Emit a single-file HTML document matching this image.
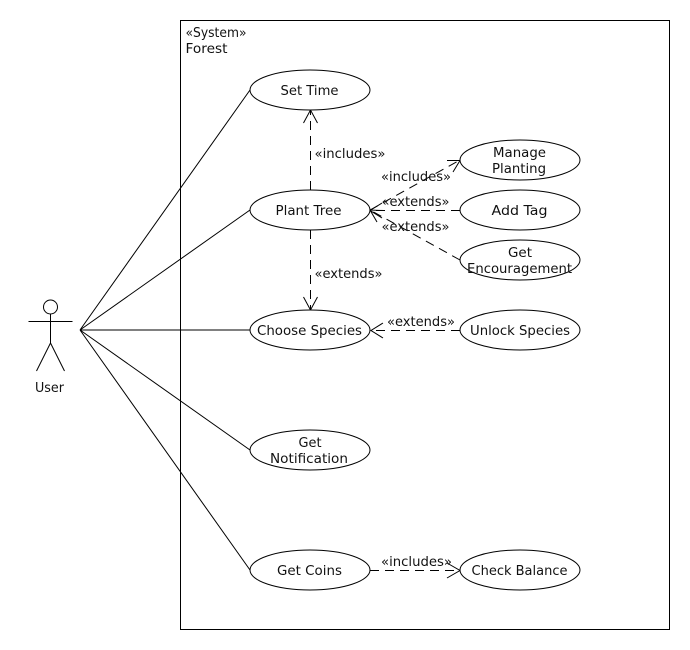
<!DOCTYPE html>
<html>
<head>
<meta charset="utf-8">
<style>
html,body{margin:0;padding:0;background:#fff;width:690px;height:650px;overflow:hidden}
svg{display:block}
text{font-family:"DejaVu Sans","Liberation Sans",sans-serif;font-size:13.5px;fill:#111}
.s{stroke:#000;stroke-width:1;fill:none}
.e{stroke:#000;stroke-width:1;fill:#fff}
.d{stroke:#000;stroke-width:1;fill:none;stroke-dasharray:9 6}
</style>
</head>
<body>
<svg width="690" height="650" viewBox="0 0 690 650" xmlns="http://www.w3.org/2000/svg">
<rect width="690" height="650" fill="#fff"/>
<rect class="s" x="180.5" y="20.5" width="489" height="609"/>
<text x="185.5" y="37" textLength="61" lengthAdjust="spacingAndGlyphs">«System»</text>
<text x="185.5" y="53" textLength="42" lengthAdjust="spacingAndGlyphs">Forest</text>

<!-- actor -->
<circle class="s" cx="50.5" cy="307" r="7"/>
<path class="s" d="M50.5 314V343M28.5 321.5H72.5M50.5 343L36.5 371M50.5 343L64.5 371"/>
<text x="35" y="392" textLength="29" lengthAdjust="spacingAndGlyphs">User</text>

<!-- associations -->
<path class="s" d="M80 330L250 90M80 330L250 210M80 330H250M80 330L250 450M80 330L250 570"/>

<!-- dashed -->
<path class="d" d="M310.5 190V110"/>
<path class="s" d="M303.5 123L310.5 110L317.5 123"/>
<path class="d" d="M310.5 230V310"/>
<path class="s" d="M303.5 297L310.5 310L317.5 297"/>
<path class="d" d="M370 210L460 160"/>
<path class="s" d="M447 160.5H460L453 172"/>
<path class="d" d="M460 210.5H370"/>
<path class="s" d="M382 203L370 210.5L382 218"/>
<path class="d" d="M460 260L370 210"/>
<path class="s" d="M383 210.5L370 210L377 222"/>
<path class="d" d="M460 330.5H371"/>
<path class="s" d="M383 323L371 330.5L383 338"/>
<path class="d" d="M370 570.5H460"/>
<path class="s" d="M447 563L460 570.5L447 578"/>

<!-- ellipses -->
<ellipse class="e" cx="310" cy="90" rx="60" ry="20"/>
<ellipse class="e" cx="310" cy="210" rx="60" ry="20"/>
<ellipse class="e" cx="310" cy="330" rx="60" ry="20"/>
<ellipse class="e" cx="310" cy="450" rx="60" ry="20"/>
<ellipse class="e" cx="310" cy="570" rx="60" ry="20"/>
<ellipse class="e" cx="520" cy="160" rx="60" ry="20"/>
<ellipse class="e" cx="520" cy="210" rx="60" ry="20"/>
<ellipse class="e" cx="520" cy="260" rx="60" ry="20"/>
<ellipse class="e" cx="520" cy="330" rx="60" ry="20"/>
<ellipse class="e" cx="520" cy="570" rx="60" ry="20"/>

<!-- ellipse labels -->
<text x="280.5" y="95" textLength="58" lengthAdjust="spacingAndGlyphs">Set Time</text>
<text x="275.5" y="215" textLength="66" lengthAdjust="spacingAndGlyphs">Plant Tree</text>
<text x="257" y="335" textLength="105" lengthAdjust="spacingAndGlyphs">Choose Species</text>
<text x="298.5" y="447" textLength="23" lengthAdjust="spacingAndGlyphs">Get</text>
<text x="270" y="463" textLength="78" lengthAdjust="spacingAndGlyphs">Notification</text>
<text x="277" y="575" textLength="65" lengthAdjust="spacingAndGlyphs">Get Coins</text>
<text x="493" y="157" textLength="53" lengthAdjust="spacingAndGlyphs">Manage</text>
<text x="492" y="173" textLength="54" lengthAdjust="spacingAndGlyphs">Planting</text>
<text x="491.5" y="215" textLength="56" lengthAdjust="spacingAndGlyphs">Add Tag</text>
<text x="508" y="257" textLength="24" lengthAdjust="spacingAndGlyphs">Get</text>
<text x="467" y="273" textLength="105" lengthAdjust="spacingAndGlyphs">Encouragement</text>
<text x="470" y="335" textLength="100" lengthAdjust="spacingAndGlyphs">Unlock Species</text>
<text x="471.5" y="575" textLength="96" lengthAdjust="spacingAndGlyphs">Check Balance</text>

<!-- connector labels -->
<text x="314.5" y="158" textLength="71" lengthAdjust="spacingAndGlyphs">«includes»</text>
<text x="314.5" y="278" textLength="68" lengthAdjust="spacingAndGlyphs">«extends»</text>
<text x="381" y="181" textLength="70" lengthAdjust="spacingAndGlyphs">«includes»</text>
<text x="381.5" y="206" textLength="68" lengthAdjust="spacingAndGlyphs">«extends»</text>
<text x="381.5" y="231" textLength="68" lengthAdjust="spacingAndGlyphs">«extends»</text>
<text x="387" y="326" textLength="68" lengthAdjust="spacingAndGlyphs">«extends»</text>
<text x="381" y="566" textLength="71" lengthAdjust="spacingAndGlyphs">«includes»</text>
</svg>
</body>
</html>
